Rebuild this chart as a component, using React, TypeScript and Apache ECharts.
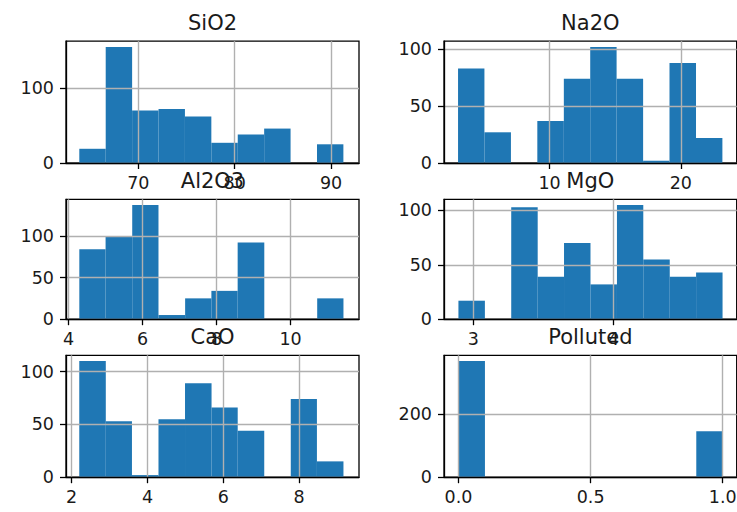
import React, { useEffect, useRef } from "react";
import * as echarts from "echarts";

// ---- data (10-bin histograms) ----
const titles = ["SiO2", "Na2O", "Al2O3", "MgO", "CaO", "Polluted"];

const sio2Edges = [63.88, 66.62, 69.36, 72.1, 74.84, 77.58, 80.32, 83.06, 85.8, 88.54, 91.28];
const sio2Counts = [19, 155, 70, 72, 62, 27, 38, 46, 0, 25];
const sio2XTicks = [70, 80, 90];
const sio2YTicks = [0, 100];

const na2oEdges = [3.03, 5.04, 7.06, 9.07, 11.09, 13.1, 15.11, 17.13, 19.14, 21.16, 23.17];
const na2oCounts = [83, 27, 0, 37, 74, 102, 74, 2, 88, 22];
const na2oXTicks = [10, 20];
const na2oYTicks = [0, 50, 100];

const al2o3Edges = [4.29, 5.0, 5.72, 6.43, 7.15, 7.86, 8.57, 9.29, 10.0, 10.72, 11.43];
const al2o3Counts = [84, 99, 137, 5, 25, 34, 92, 0, 0, 25];
const al2o3XTicks = [4, 6, 8, 10];
const al2o3YTicks = [0, 50, 100];

const mgoEdges = [2.893, 3.082, 3.27, 3.459, 3.647, 3.836, 4.025, 4.213, 4.402, 4.59, 4.779];
const mgoCounts = [17, 0, 103, 39, 70, 32, 105, 55, 39, 43];
const mgoXTicks = [3, 4];
const mgoYTicks = [0, 50, 100];

const caoEdges = [2.2, 2.9, 3.59, 4.29, 4.99, 5.69, 6.38, 7.08, 7.78, 8.47, 9.17];
const caoCounts = [110, 53, 2, 55, 89, 66, 44, 0, 74, 15];
const caoXTicks = [2, 4, 6, 8];
const caoYTicks = [0, 50, 100];

const pollutedEdges = [0, 0.1, 0.2, 0.3, 0.4, 0.5, 0.6, 0.7, 0.8, 0.9, 1.0];
const pollutedCounts = [368, 0, 0, 0, 0, 0, 0, 0, 0, 146];
const pollutedXTicks = [0, 0.5, 1.0];
const pollutedYTicks = [0, 200];

// ---- layout (pixels / axis extents) ----
const colLeft = [66, 444];
const colWidth = [293, 292.7];
const rowTop = [41.2, 199.3, 355.3];
const rowHeight = [121.8, 119.9, 121.9];

const panels = [
  { edges: sio2Edges, counts: sio2Counts, xTicks: sio2XTicks, yTicks: sio2YTicks, xRange: [62.5, 92.9], dec: 0 },
  { edges: na2oEdges, counts: na2oCounts, xTicks: na2oXTicks, yTicks: na2oYTicks, xRange: [1.96, 24.26], dec: 0 },
  { edges: al2o3Edges, counts: al2o3Counts, xTicks: al2o3XTicks, yTicks: al2o3YTicks, xRange: [3.93, 11.85], dec: 0 },
  { edges: mgoEdges, counts: mgoCounts, xTicks: mgoXTicks, yTicks: mgoYTicks, xRange: [2.79, 4.88], dec: 0 },
  { edges: caoEdges, counts: caoCounts, xTicks: caoXTicks, yTicks: caoYTicks, xRange: [1.85, 9.58], dec: 0 },
  { edges: pollutedEdges, counts: pollutedCounts, xTicks: pollutedXTicks, yTicks: pollutedYTicks, xRange: [-0.055, 1.053], dec: 1 },
];

const FONT = "DejaVu Sans";
const BAR = "#1f77b4";
const GRIDC = "#b0b0b0";
const TEXTC = "#1a1a1a";

export default function App() {
  const ref = useRef<HTMLDivElement>(null);

  useEffect(() => {
    if (!ref.current) return;
    const chart = echarts.init(ref.current, null, { renderer: "svg" });

    const grids: any[] = [];
    const xAxes: any[] = [];
    const yAxes: any[] = [];
    const series: any[] = [];
    const graphics: any[] = [];

    panels.forEach((p, i) => {
      const r = Math.floor(i / 2);
      const c = i % 2;
      grids.push({
        left: colLeft[c],
        top: rowTop[r],
        width: colWidth[c],
        height: rowHeight[r],
        show: true,
        borderColor: "#000",
        borderWidth: 1.3,
        backgroundColor: "transparent",
        outerBoundsMode: "none",
        containLabel: false,
      });
      xAxes.push({
        type: "value",
        gridIndex: i,
        position: "bottom",
        min: p.xRange[0],
        max: p.xRange[1],
        z: 5,
        axisLine: { show: true, onZero: false, lineStyle: { color: "#000", width: 1.3 } },
        axisTick: { show: true, inside: false, length: 6, customValues: p.xTicks, lineStyle: { color: "#000", width: 1.3 } },
        axisLabel: {
          show: true,
          customValues: p.xTicks,
          margin: 11,
          fontSize: 17.5,
          fontFamily: FONT,
          color: TEXTC,
          formatter: (v: number) => v.toFixed(p.dec),
        },
        splitLine: { show: true, lineStyle: { color: GRIDC, width: 1.4 } },
      });
      const ymax = Math.max(...p.counts) * 1.05;
      yAxes.push({
        type: "value",
        gridIndex: i,
        position: "left",
        min: 0,
        max: ymax,
        z: 5,
        axisLine: { show: true, onZero: false, lineStyle: { color: "#000", width: 1.3 } },
        axisTick: { show: true, inside: false, length: 6, customValues: p.yTicks, lineStyle: { color: "#000", width: 1.3 } },
        axisLabel: {
          show: true,
          customValues: p.yTicks,
          margin: 12,
          fontSize: 17.5,
          fontFamily: FONT,
          color: TEXTC,
          formatter: (v: number) => String(Math.round(v)),
        },
        splitLine: { show: true, lineStyle: { color: GRIDC, width: 1.4 } },
      });
      const data = p.counts.map((n, k) => [p.edges[k], p.edges[k + 1], n]);
      series.push({
        type: "custom",
        xAxisIndex: i,
        yAxisIndex: i,
        z: 1,
        data,
        encode: { x: [0, 1], y: 2 },
        renderItem: (params: any, api: any) => {
          const a = api.coord([api.value(0), api.value(2)]);
          const b = api.coord([api.value(1), 0]);
          return {
            type: "rect",
            shape: { x: a[0], y: a[1], width: b[0] - a[0], height: b[1] - a[1] },
            style: { fill: BAR },
          };
        },
      });
      graphics.push({
        type: "text",
        x: colLeft[c] + colWidth[c] / 2,
        y: rowTop[r] - 18,
        z: 10,
        style: {
          text: titles[i],
          fontSize: 21,
          fontFamily: FONT,
          fill: TEXTC,
          textAlign: "center",
          textVerticalAlign: "middle",
        },
      });
    });

    chart.setOption({
      animation: false,
      backgroundColor: "#ffffff",
      grid: grids,
      xAxis: xAxes,
      yAxis: yAxes,
      series,
      graphic: graphics,
      tooltip: { show: false },
    });

    return () => {
      chart.dispose();
    };
  }, []);

  return (
    <div
      ref={ref}
      style={{ position: "absolute", left: 0, top: 0, width: 737, height: 512, background: "#fff" }}
    />
  );
}
